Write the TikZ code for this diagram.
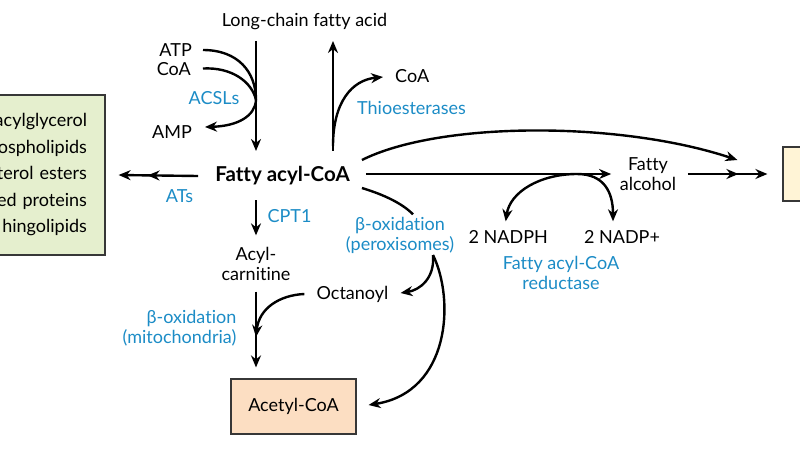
\documentclass[tikz,border=0pt]{standalone}
\usepackage{fontspec}
\setmainfont{Lato}[Ligatures={NoCommon,NoContextual}]
\usetikzlibrary{arrows.meta, calc}

\definecolor{enzblue}{RGB}{28,140,198}
\definecolor{lipidgreen}{RGB}{229,239,206}
\definecolor{acetylpeach}{RGB}{252,222,194}
\definecolor{waxyellow}{RGB}{255,244,214}
\definecolor{boxline}{RGB}{55,55,55}

\begin{document}
\begin{tikzpicture}[x=1pt, y=-1pt, line width=2.4pt, >={Stealth[length=12pt, width=10pt]},
    every node/.style={font=\fontsize{18}{19.5}\selectfont, inner sep=1pt, align=center},
    enzyme/.style={text=enzblue},
    pool/.style={draw=boxline, line width=1.2pt, inner sep=0pt},
    twotip/.style={-{Stealth[length=12pt, width=10pt, sep=17pt]Stealth[length=12pt, width=10pt]}}]

  \useasboundingbox (0,0) rectangle (800,448);
  \clip (0,0) rectangle (800,448);

  % metabolites
  \node (lcfa) at (304.5,22) {Long-chain fatty acid};
  \node[anchor=east] (atp) at (194,50) {ATP};
  \node[anchor=east] (coain) at (193,69) {CoA};
  \node[anchor=east] (amp) at (194,132) {AMP};
  \node[anchor=west] (coaout) at (393,76) {CoA};
  \node[font=\bfseries\fontsize{20.5}{22}\selectfont] (acyl) at (282.5,176) {Fatty acyl-CoA};
  \node (carn) at (256,264) {Acyl-\\carnitine};
  \node (octa) at (352.5,294) {Octanoyl};
  \node (falc) at (648,174) {Fatty\\alcohol};
  \node[anchor=east] (nadph) at (550,237) {2 NADPH};
  \node (nadp) at (622,237) {2 NADP+};

  % pools
  \node[pool, fill=lipidgreen, text width=129pt, align=right, inner xsep=18pt,
    minimum height=160pt, font=\fontsize{18}{26.5}\selectfont]
    (lipids) at (22.5,175)
    {acylglycerol\\ospholipids\\terol esters\\ed proteins\\hingolipids};
  \node[pool, fill=acetylpeach, minimum width=125pt, minimum height=55pt]
    (acetyl) at (293.5,406.5) {Acetyl-CoA};
  \node[pool, fill=waxyellow, minimum width=57pt, minimum height=54pt]
    (wax) at (811.5,174) {};

  % enzymes
  \node[enzyme] (acsl) at (214,98) {ACSLs};
  \node[enzyme, anchor=west] (thio) at (355,108) {Thioesterases};
  \node[enzyme] (ats) at (179.5,196) {ATs};
  \node[enzyme] (cpt) at (289.5,216) {CPT1};
  \node[enzyme, anchor=east, align=right] (betamito) at (238.5,328) {β-oxidation\\(mitochondria)};
  \node[enzyme] (betaperox) at (400,235.5) {β-oxidation\\(peroxisomes)};
  \node[enzyme] (far) at (561,273) {Fatty acyl-CoA\\reductase};

  \coordinate (join) at (256,100);
  \coordinate (thiob) at (333,146);
  \coordinate (merge) at (256,337);
  \coordinate (perox) at (433,255);

  % activation
  \draw[->] ($(lcfa.south -| join)+(0,8.5)$) -- ($(acyl.north -| join)+(0,-13.5)$);
  \draw[shorten <=9pt] (atp.east) .. controls (238,50) and (256,72) .. (join);
  \draw[shorten <=10pt] (coain.east) .. controls (232,67) and (252,82) .. (join);
  \draw[->] (join) .. controls (255,116) and (238,126) .. ($(amp.east)+(11,-5)$);

  % hydrolysis
  \draw[->] ($(acyl.north -| thiob)+(0,-13.5)$) -- ($(lcfa.south -| thiob)+(0,8.5)$);
  \draw[->] (thiob) .. controls (333,102) and (352,80) .. ($(coaout.west)+(-10,1)$);

  % esterification
  \draw[twotip] ($(acyl.west)+(-15,0)$) -- ($(lipids.east)+(13,0)$);

  % mitochondria
  \draw[->] ($(acyl.south -| join)+(0,12.5)$) -- ($(carn.north -| join)+(0,-10)$);
  \draw[->] ($(carn.south -| join)+(0,9)$) -- ($(acetyl.north -| join)+(0,-11)$);
  \draw[->] ($(octa.west)+(-10,0)$) .. controls (280,295) and (259,308) .. (merge);

  % peroxisomes
  \draw ($(acyl.east)+(10,12)$) .. controls (385,195) and (403,204) .. ($(betaperox.north)+(13,-1)$);
  \draw[->] (perox) .. controls (435,278) and (420,290) .. ($(octa.east)+(10,-1)$);
  \draw[->] (perox) .. controls (455,300) and (450,392) .. ($(acetyl.east)+(12,-1.5)$);

  % reduction
  \draw[->] ($(acyl.east)+(10,-16)$) .. controls (440,121) and (620,121) .. ($(wax.west)+(-45,-14)$);
  \draw[->] ($(acyl.east |- falc.west)+(14,0)$) -- ($(falc.west)+(-6.5,0)$);
  \draw[twotip] ($(falc.east)+(9.5,0)$) -- ($(wax.west)+(-15,0)$);
  \draw[<->] ($(nadph.north)+(-2.5,-7)$) .. controls (510,192) and (540,174) .. (577,174)
    .. controls (604,174) and (613,192) .. ($(nadp.north)+(-9,-7)$);

\end{tikzpicture}
\end{document}
